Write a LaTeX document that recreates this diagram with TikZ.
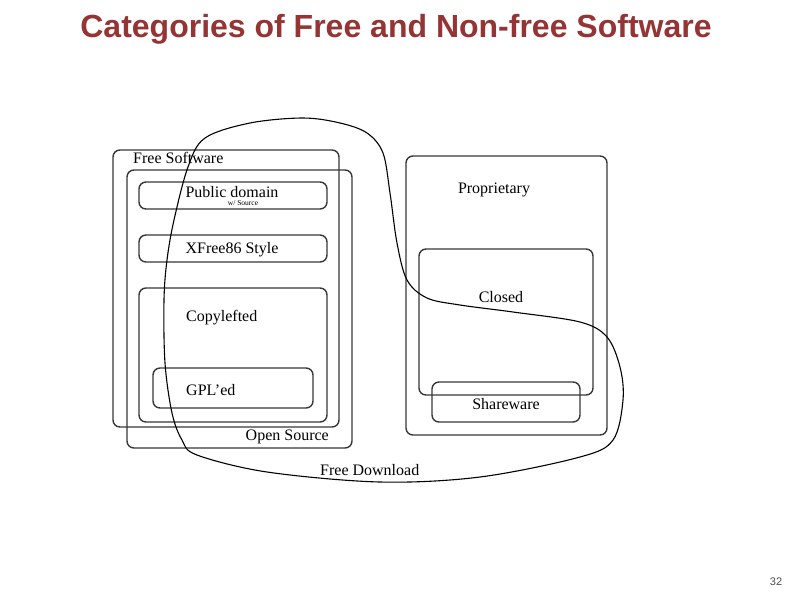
\documentclass[tikz,border=0pt]{standalone}
\usepackage{fontspec}
\setmainfont{Liberation Serif}
\newfontfamily\titlefont{Liberation Sans}
\definecolor{titlered}{RGB}{149,52,52}
\definecolor{boxline}{RGB}{55,55,55}
\begin{document}
\begin{tikzpicture}[x=1pt,y=-1pt,
  box/.style={draw=boxline, line width=1.4pt, rounded corners=7pt, inner sep=0pt},
  lbl/.style={inner sep=0pt, font=\fontsize{16}{19}\selectfont},
  tiny/.style={inner sep=0pt, font=\fontsize{7.5}{8}\selectfont}]
\useasboundingbox (0,0) rectangle (794,595);
% title
\node[inner sep=0pt, anchor=base, text=titlered, font=\titlefont\bfseries\fontsize{32}{38}\selectfont] (title) at (396,37) {Categories of Free and Non-free Software};
\node[inner sep=0pt, text=black!70, font=\titlefont\fontsize{11}{13}\selectfont] (pagenum) at (776,582) {32};
% left boxes
\node[box, minimum width=226pt, minimum height=277pt] (free) at (226,288.5) {};
\node[box, minimum width=225pt, minimum height=278pt] (open) at (239.5,309) {};
\node[box, minimum width=188pt, minimum height=27pt] (pd) at (233,195.5) {};
\node[box, minimum width=188pt, minimum height=27pt] (xf) at (233,248.5) {};
\node[box, minimum width=188pt, minimum height=134pt] (copy) at (233,355) {};
\node[box, minimum width=160pt, minimum height=40pt] (gpl) at (233,388) {};
% right boxes
\node[box, minimum width=201pt, minimum height=279pt] (prop) at (506.5,295.5) {};
\node[box, minimum width=174pt, minimum height=146pt] (closed) at (506,322) {};
\node[box, minimum width=148pt, minimum height=40pt] (share) at (506,402) {};
% labels
\node[lbl, anchor=west] (tfree) at (133,158) {Free Software};
\node[lbl, anchor=east] (topen) at (329,437) {Open Source};
\node[lbl] (tpd) at (232,192) {Public domain};
\node[tiny] (tsrc) at (243,203.5) {w/ Source};
\node[lbl] (txf) at (232,250) {XFree86 Style};
\node[lbl, anchor=west] (tcopy) at (186,318) {Copylefted};
\node[lbl, anchor=west] (tgpl) at (186,390) {GPL'ed};
\node[lbl] (tprop) at (494,190) {Proprietary};
\node[lbl] (tclosed) at (501,297) {Closed};
\node[lbl] (tshare) at (506,404) {Shareware};
\node[lbl, anchor=west] (tdl) at (320,470) {Free Download};
% free download curve
\draw[line width=1.1pt, black] plot[smooth cycle, tension=0.55] coordinates {
 (303,118) (340,123) (367,133) (383,153) (390,193) (397,243) (407,280)
 (427,298) (460,305) (513,312) (580,322) (607,337) (620,367) (623,400)
 (613,440) (580,457) (480,477) (380,482) (267,472) (197,455) (182,440)
 (172,413) (165,363) (164,300) (167,260) (174,220) (188,167) (205,138) (250,123)};
\end{tikzpicture}
\end{document}
